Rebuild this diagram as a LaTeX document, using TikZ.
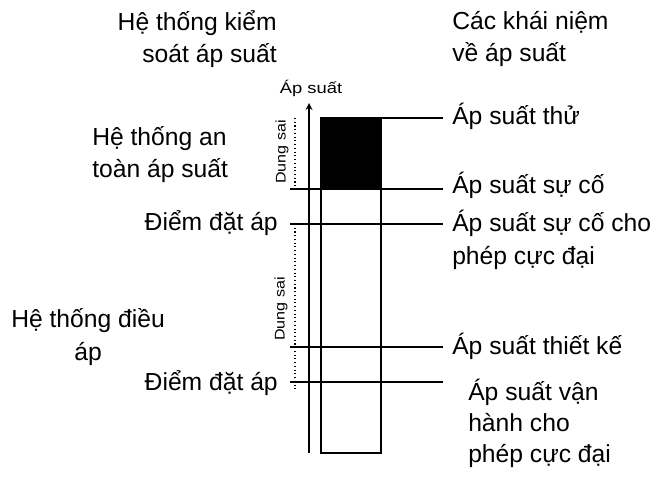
\documentclass[tikz,border=0pt]{standalone}
\usepackage{fontspec}
\setmainfont{Liberation Sans}
\usetikzlibrary{arrows}
\usetikzlibrary{positioning}
\begin{document}
\begin{tikzpicture}[x=0.75pt,y=0.75pt,yscale=-1,xscale=1]
  \tikzstyle{arrow} = [line width=1.3pt,->,>=stealth]
  \tikzstyle{lbl} = [font=\fontsize{18.5}{24.5}\selectfont, inner sep=0pt]
  \tikzstyle{small} = [font=\fontsize{11.5}{13}\selectfont, inner sep=0pt]
  \tikzstyle{level} = [line width=1.6pt]
  \tikzstyle{tol} = [dotted, line width=0.8pt]
  \useasboundingbox (0,0) rectangle (656,477);
  %Draw the pressure axis
  \coordinate (ax0) at (309,453);
  \coordinate (ax1) at (309,103);
  \draw [arrow] (ax0) -- (ax1);
  \node[small, anchor=base] (ptitle) at (311,94) {\scalebox{1.2}[1]{Áp suất}};
  %Draw the bar
  \coordinate (barTL) at (321,118);
  \coordinate (barBR) at (381,453);
  \fill (321,118) rectangle (381,189);
  \draw [line width=1.4pt] (barTL) rectangle (barBR);
  % Level lines
  \coordinate (t1) at (443,118);
  \coordinate (f0) at (290,189); \coordinate (f1) at (443,189);
  \coordinate (s0) at (290,224); \coordinate (s1) at (443,224);
  \coordinate (d0) at (290,347); \coordinate (d1) at (443,347);
  \coordinate (r0) at (290,382); \coordinate (r1) at (443,382);
  \draw [level] (barTL) -- (t1);
  \draw [level] (f0) -- (f1);
  \draw [level] (s0) -- (s1);
  \draw [level] (d0) -- (d1);
  \draw [level] (r0) -- (r1);
  %Draw the tolerance bands
  \draw [tol] (295,118) -- (295,189);
  \draw [tol] (295,224) -- (295,390);
  \node[small, font=\fontsize{10.5}{12}\selectfont, rotate=90] (tol1) at (282,152) {\scalebox{1.15}[1]{Dung sai}};
  \node[small, font=\fontsize{10.5}{12}\selectfont, rotate=90] (tol2) at (281,309) {\scalebox{1.15}[1]{Dung sai}};

  % Label the systems (base = last line)
  \node[lbl, anchor=base east, align=right] (ctrl) at (277,63) {Hệ thống kiểm\\soát áp suất};
  \node[lbl, anchor=base west, align=left] (safety) at (92,178) {Hệ thống an\\toàn áp suất};
  \node[lbl, anchor=base east] (set1) at (278,231) {Điểm đặt áp};
  \node[lbl, anchor=base west, align=center] (reg) at (11,360) {Hệ thống điều\\áp};
  \node[lbl, anchor=base east] (set2) at (278,390) {Điểm đặt áp};
  % Label the pressures
  \node[lbl, anchor=base west, align=left] (concepts) at (452,62) {Các khái niệm\\về áp suất};
  \node[lbl, anchor=base west] (ptest) at (452,125) {Áp suất thử};
  \node[lbl, anchor=base west] (pfail) at (452,194) {Áp suất sự cố};
  \node[lbl, anchor=base west, align=left] (mawp) at (452,264) {Áp suất sự cố cho\\phép cực đại};
  \node[lbl, anchor=base west] (pdes) at (452,354) {Áp suất thiết kế};
  \node[lbl, anchor=base west, align=left, font=\fontsize{18.5}{23}\selectfont] (mop) at (468,462) {Áp suất vận\\hành cho\\phép cực đại};
\end{tikzpicture}
\end{document}
